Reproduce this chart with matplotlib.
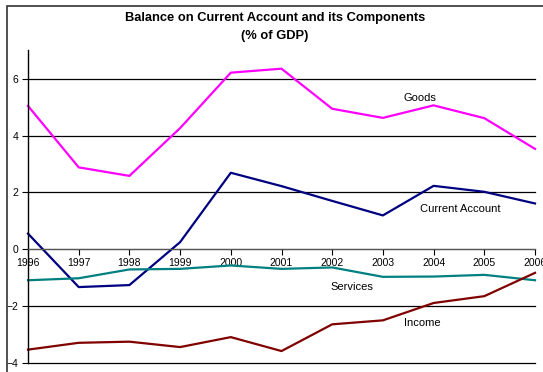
import matplotlib.pyplot as plt
from matplotlib.patches import Rectangle

plt.rcParams['font.family'] = ['Liberation Sans', 'DejaVu Sans']

years = [1996, 1997, 1998, 1999, 2000, 2001, 2002, 2003, 2004, 2005, 2006]
goods = [5.04, 2.88, 2.58, 4.26, 6.21, 6.35, 4.94, 4.62, 5.06, 4.61, 3.53]
current_account = [0.55, -1.33, -1.26, 0.25, 2.69, 2.22, 1.70, 1.19, 2.23, 2.02, 1.61]
services = [-1.09, -1.02, -0.71, -0.69, -0.57, -0.69, -0.64, -0.97, -0.96, -0.90, -1.09]
income = [-3.53, -3.29, -3.25, -3.44, -3.09, -3.58, -2.64, -2.50, -1.89, -1.65, -0.83]

fig = plt.figure(figsize=(5.43, 3.72), dpi=100)
ax = fig.add_axes([28/543, 1 - 363/372, (535 - 28)/543, (363 - 50.2)/372])

# outer frame (right and bottom fall off the picture)
fig.patches.append(Rectangle((7/543, -0.1), 1.2, 1 - 6/372 + 0.1, transform=fig.transFigure,
                             fill=False, edgecolor='#333333', lw=1.2))

ax.plot(years, goods, color='#FF00FF', lw=1.6, clip_on=False)
ax.plot(years, current_account, color='#000080', lw=1.6, clip_on=False)
ax.plot(years, services, color='#008080', lw=1.6, clip_on=False)
ax.plot(years, income, color='#800000', lw=1.6, clip_on=False)

ax.set_xlim(1996, 2006)
ax.set_ylim(-4, 7)
ax.set_yticks([-4, -2, 0, 2, 4, 6])
ax.set_xticks(years)
ax.set_xticklabels([str(y) for y in years])
ax.yaxis.grid(True, color='black', lw=0.9)
for gl in ax.yaxis.get_gridlines():
    gl.set_clip_on(False)
ax.set_axisbelow(True)

for s in ['top', 'right']:
    ax.spines[s].set_visible(False)
ax.spines['bottom'].set_position(('data', 0))
ax.spines['bottom'].set_color('#555555')
ax.spines['left'].set_linewidth(1.0)
ax.tick_params(axis='x', direction='out', length=4, pad=2, labelsize=7.5, colors='black')
ax.tick_params(axis='y', direction='out', length=4, pad=3, labelsize=7.5)
for lbl in ax.get_xticklabels():
    lbl.set_clip_on(False)

ax.text(2003.73, 5.32, 'Goods', fontsize=8, ha='center', va='center')
ax.text(2004.52, 1.41, 'Current Account', fontsize=8, ha='center', va='center')
ax.text(2002.39, -1.34, 'Services', fontsize=8, ha='center', va='center')
ax.text(2003.77, -2.61, 'Income', fontsize=8, ha='center', va='center')

fig.text(275/543, 1 - 18.5/372, 'Balance on Current Account and its Components',
         fontsize=9.3, fontweight='bold', ha='center', va='center')
fig.text(275/543, 1 - 35.5/372, '(% of GDP)',
         fontsize=9.3, fontweight='bold', ha='center', va='center')

fig.savefig('out.png', dpi=100)
